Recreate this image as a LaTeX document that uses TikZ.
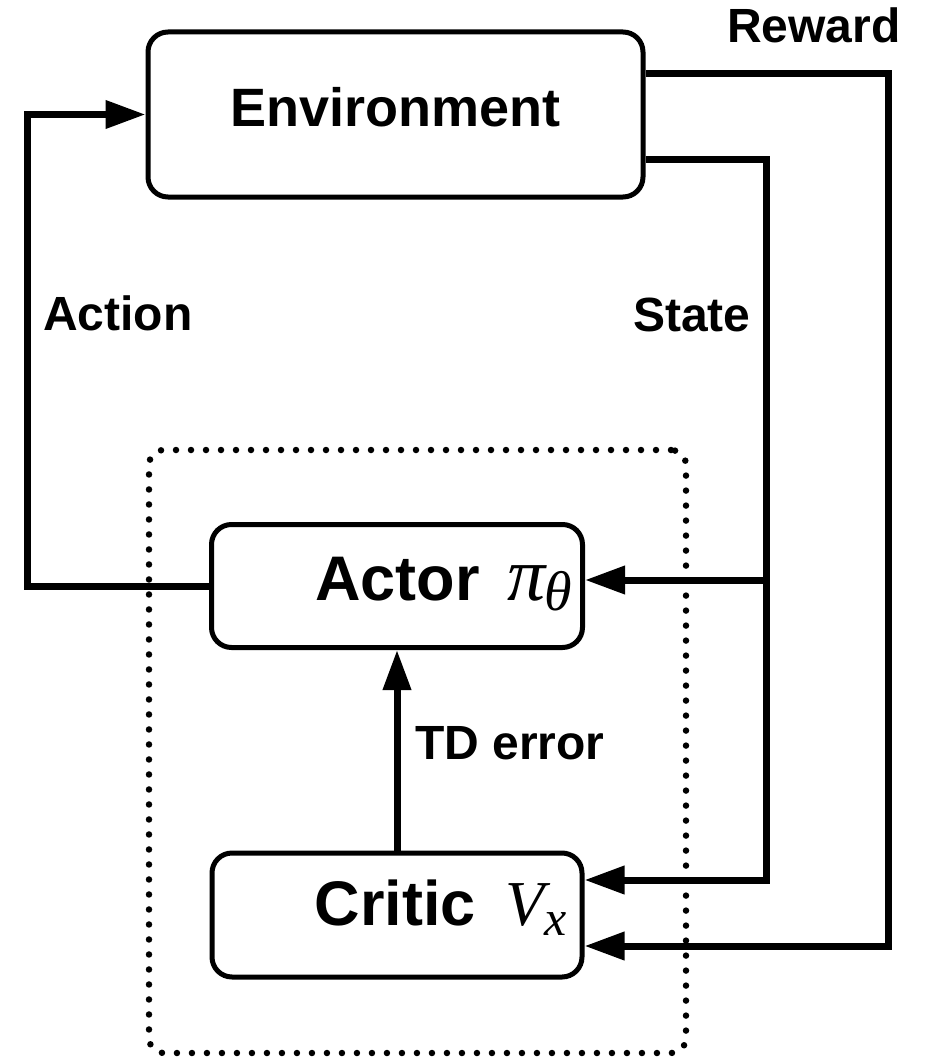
\documentclass[tikz,border=0pt]{standalone}
\usepackage{fontspec}
\setmainfont{Liberation Sans}
\newfontfamily\tmsfont{Liberation Serif}
\usetikzlibrary{arrows.meta}
\newcommand{\pitheta}{{\tmsfont\mdseries\itshape\fontsize{76}{76}\selectfont π}\hspace{-1pt}\raisebox{-10pt}{\tmsfont\mdseries\itshape\fontsize{56}{56}\selectfont θ}}
\newcommand{\vsubx}{{\tmsfont\mdseries\itshape\fontsize{64}{64}\selectfont V}\hspace{0pt}\raisebox{-10pt}{\tmsfont\mdseries\itshape\fontsize{50}{50}\selectfont x}}
\begin{document}
\begin{tikzpicture}[x=1pt,y=-1pt,
  box/.style={draw, line width=5pt, rounded corners=20pt, inner ysep=0pt},
  group/.style={draw, line width=6.5pt, line cap=round, dash pattern=on 0pt off 15pt, rounded corners=15pt, inner sep=0pt},
  conn/.style={line width=7pt},
  arr/.style={conn, -{Triangle[length=40pt,width=27pt]}},
  lbl/.style={font=\fontsize{48}{48}\selectfont\bfseries, inner sep=0pt, anchor=base west},
  bigtxt/.style={font=\fontsize{63}{63}\selectfont\bfseries}]
\useasboundingbox (0,0) rectangle (932,1062);

% nodes
\node[group, minimum width=537pt, minimum height=603pt] (grp) at (417.5,751.5) {};
\node[box, minimum width=495pt, minimum height=165pt, inner xsep=0pt,
      text height=39pt, text depth=14pt,
      font=\fontsize{54}{54}\selectfont\bfseries] (env) at (395.5,114.5) {Environment};
\node[box, bigtxt, minimum width=371pt, minimum height=123pt, inner xsep=10pt,
      text width=351pt, align=right, text height=50pt, text depth=22pt] (actor) at (397,586)
      {Actor\hspace{28pt}\pitheta};
\node[box, bigtxt, minimum width=370pt, minimum height=124pt, inner xsep=15pt,
      text width=340pt, align=right, text height=50pt, text depth=30pt] (critic) at (397,915)
      {Critic\hspace{30pt}\vsubx};

% routing points
\coordinate (aL) at (27,586);
\coordinate (s1) at (766,159);
\coordinate (s2) at (766,880);
\coordinate (sb) at (766,580);
\coordinate (r1) at (888,74);
\coordinate (r2) at (888,946);

% connectors
\draw[arr] (actor.west) -- (aL) |- (env.west);
\draw[arr] (env.east |- s1) -- (s1) -- (s2) -- (critic.east |- s2);
\draw[arr] (sb) -- (actor.east |- sb);
\draw[arr] (env.east |- r1) -- (r1) -- (r2) -- (critic.east |- r2);
\draw[arr] (critic.north) -- (actor.south);

% labels
\node[lbl] (lAction) at (43,330) {Action};
\node[lbl] (lState) at (633,331) {State};
\node[lbl] (lReward) at (727,43) {Reward};
\node[lbl] (lTD) at (415,759) {TD error};
\end{tikzpicture}
\end{document}
